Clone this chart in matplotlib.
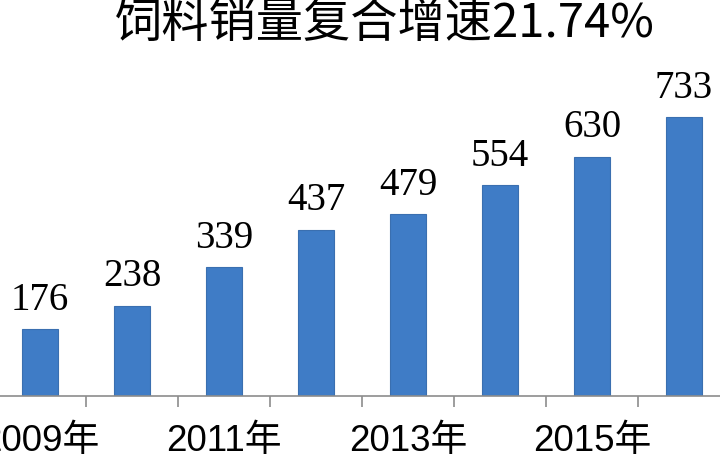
import matplotlib
matplotlib.use('Agg')
import matplotlib.pyplot as plt

years = ['2009年', '2010年', '2011年', '2012年', '2013年', '2014年', '2015年', '2016年']
sales = [176, 238, 339, 437, 479, 554, 630, 733]
title = '饲料销量复合增速21.74%'

fig = plt.figure(figsize=(7.2, 4.65), dpi=100)
# axes spans whole width; bottom spine at ~396px from top
ax = fig.add_axes([0, 69 / 465, 1, 396 / 465])

x = list(range(len(sales)))
ax.bar(x, sales, width=0.39, color='#3f7cc6', edgecolor='#3a6fb0', linewidth=0.8, zorder=2)

for xi, v in zip(x, sales):
    ax.annotate(str(v), (xi, v), xytext=(0, 14), textcoords='offset points',
                ha='center', va='baseline', fontsize=28, family='Liberation Serif')

for s in ['top', 'right', 'left']:
    ax.spines[s].set_visible(False)
ax.spines['bottom'].set_color('#8c8c8c')
ax.spines['bottom'].set_linewidth(1.2)
ax.set_yticks([])

# tick marks at category boundaries, labels on every other bar
ax.set_xticks([i + 0.5 for i in x])
ax.set_xticklabels([])
ax.tick_params(axis='x', which='major', length=8, width=1.2, color='#8c8c8c')
ax.set_xticks(x[::2], minor=True)
ax.set_xticklabels(years[::2], minor=True)
ax.tick_params(axis='x', which='minor', length=0, pad=20)
for lab in ax.get_xticklabels(minor=True):
    lab.set_fontsize(26.5)
    lab.set_family(['Liberation Sans', 'Noto Sans CJK SC'])

# limits last so the ticks don't widen the view
ax.set_xlim(-40 / 92, (720 - 40) / 92)
ax.set_ylim(0, 396 / 0.38)

fig.text(385 / 720, 1 - 24 / 465, title, ha='center', va='center', fontsize=34,
         family=['Noto Sans CJK SC', 'DejaVu Sans'])

fig.savefig('out.png', dpi=100)
